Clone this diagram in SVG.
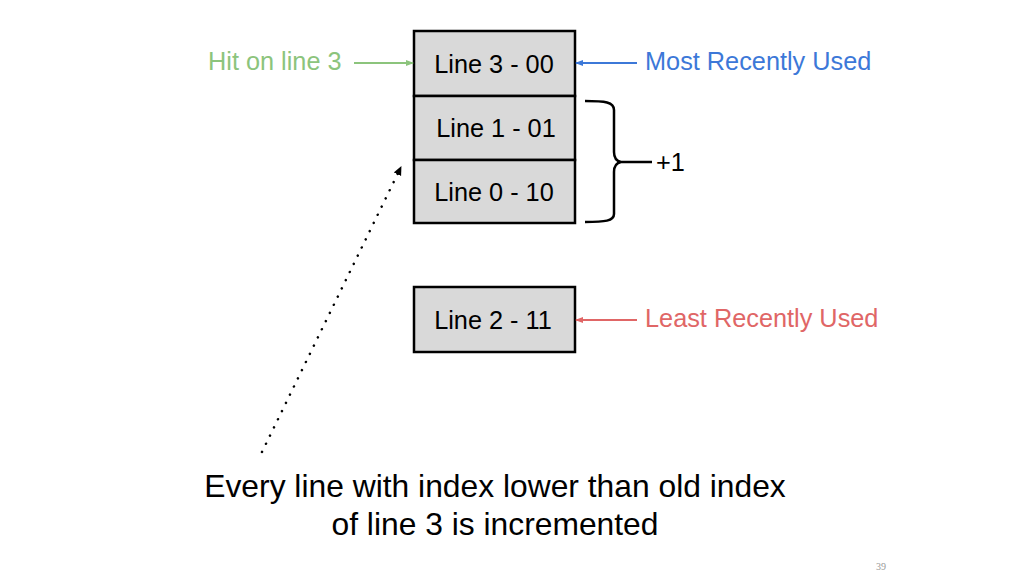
<svg xmlns="http://www.w3.org/2000/svg" width="1024" height="576" viewBox="0 0 1024 576">
<style>
.box{fill:#d9d9d9;stroke:#000;stroke-width:2.5}
.t{font-family:"Liberation Sans",Arial,sans-serif;font-size:25.3px;fill:#000}
.lbl{font-family:"Liberation Sans",Arial,sans-serif;font-size:25.3px}
.big{font-family:"Liberation Sans",Arial,sans-serif;font-size:31.8px;fill:#000}
</style>
<defs>
<marker id="ag" markerWidth="8" markerHeight="8" refX="7" refY="4" orient="auto" markerUnits="userSpaceOnUse"><path d="M0,1 L8,4 L0,7 Z" fill="#8cc47c"/></marker>
<marker id="ab" markerWidth="8" markerHeight="8" refX="7" refY="4" orient="auto" markerUnits="userSpaceOnUse"><path d="M0,1 L8,4 L0,7 Z" fill="#3c78d8"/></marker>
<marker id="ar" markerWidth="8" markerHeight="8" refX="7" refY="4" orient="auto" markerUnits="userSpaceOnUse"><path d="M0,1 L8,4 L0,7 Z" fill="#e06666"/></marker>
<marker id="ak" markerWidth="9" markerHeight="9" refX="8" refY="4.5" orient="auto" markerUnits="userSpaceOnUse"><path d="M0,0.5 L9,4.5 L0,8.5 Z" fill="#000"/></marker>
</defs>
<rect width="1024" height="576" fill="#fff"/>
<g id="line3"><rect class="box" x="414" y="31" width="161" height="65"/><text class="t" x="494" y="73" text-anchor="middle">Line 3 - 00</text></g>
<g id="line1"><rect class="box" x="414" y="96" width="161" height="64"/><text class="t" x="496" y="137" text-anchor="middle">Line 1 - 01</text></g>
<g id="line0"><rect class="box" x="414" y="160" width="161" height="63"/><text class="t" x="494" y="201" text-anchor="middle">Line 0 - 10</text></g>
<g id="line2"><rect class="box" x="414" y="287" width="161" height="65"/><text class="t" x="493" y="329" text-anchor="middle">Line 2 - 11</text></g>
<g id="hit"><text class="lbl" x="208" y="70" fill="#8cc47c">Hit on line 3</text></g>
<g id="mru"><text class="lbl" x="645" y="70" fill="#3c78d8">Most Recently Used</text></g>
<g id="lru"><text class="lbl" x="645" y="327" fill="#e06666">Least Recently Used</text></g>
<g id="plus"><text class="lbl" x="656" y="171" fill="#000">+1</text></g>
<g id="note">
<text class="big" x="495" y="497" text-anchor="middle">Every line with index lower than old index</text>
<text class="big" x="495" y="535" text-anchor="middle">of line 3 is incremented</text>
</g>
<g id="page"><text x="876" y="570" font-family="Liberation Serif,serif" font-size="10" fill="#999">39</text></g>
<g id="connectors" fill="none">
<line x1="354" y1="63" x2="413" y2="63" stroke="#8cc47c" stroke-width="2" marker-end="url(#ag)"/>
<line x1="637" y1="63" x2="576" y2="63" stroke="#3c78d8" stroke-width="2" marker-end="url(#ab)"/>
<line x1="637" y1="320" x2="576" y2="320" stroke="#e06666" stroke-width="2" marker-end="url(#ar)"/>
<line x1="262" y1="452" x2="401" y2="167" stroke="#000" stroke-width="2.5" stroke-dasharray="0.1 9" stroke-linecap="round" marker-end="url(#ak)"/>
<path d="M585,101 C605,101 614,102 614,110 L614,152 C614,158 616,161 621,162 L652,162 M621,162 C616,163 614,166 614,172 L614,214 C614,221 605,222 585,222" stroke="#000" stroke-width="2.5"/>
</g>
</svg>
